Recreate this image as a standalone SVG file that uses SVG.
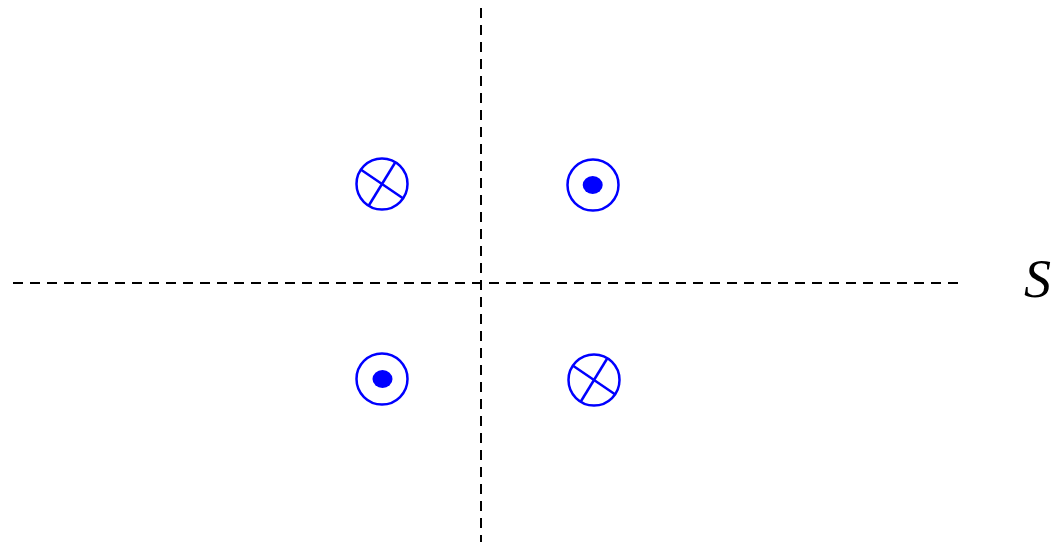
<svg xmlns="http://www.w3.org/2000/svg" width="1053" height="550" viewBox="0 0 1053 550">
<style>
.axis{stroke:#000;stroke-width:2;stroke-dasharray:10 7;fill:none}
.ring{stroke:#0000ff;stroke-width:2.5;fill:none}
.dot{fill:#0000ff}
.lbl{font-family:"Liberation Serif",serif;font-style:italic;font-size:54px;fill:#000}
</style>
<rect width="1053" height="550" fill="#fff"/>
<g id="axes">
<line class="axis" x1="481" y1="8" x2="481" y2="542"/>
<line class="axis" x1="13" y1="283" x2="960" y2="283"/>
</g>
<g id="into-top-left">
<circle class="ring" cx="382" cy="184" r="25.5"/>
<line class="ring" x1="360.7" y1="169.5" x2="403.3" y2="198.5"/>
<line class="ring" x1="395.5" y1="162" x2="368.5" y2="206"/>
</g>
<g id="out-top-right">
<circle class="ring" cx="593" cy="185" r="25.5"/>
<ellipse class="dot" cx="592.7" cy="185" rx="10" ry="9"/>
</g>
<g id="out-bottom-left">
<circle class="ring" cx="382" cy="379" r="25.5"/>
<ellipse class="dot" cx="382.5" cy="379" rx="10" ry="9"/>
</g>
<g id="into-bottom-right">
<circle class="ring" cx="594" cy="380" r="25.5"/>
<line class="ring" x1="572.7" y1="365.5" x2="615.3" y2="394.5"/>
<line class="ring" x1="607.5" y1="358" x2="580.5" y2="402"/>
</g>
<g id="label">
<text class="lbl" x="1024" y="297">S</text>
</g>
</svg>
